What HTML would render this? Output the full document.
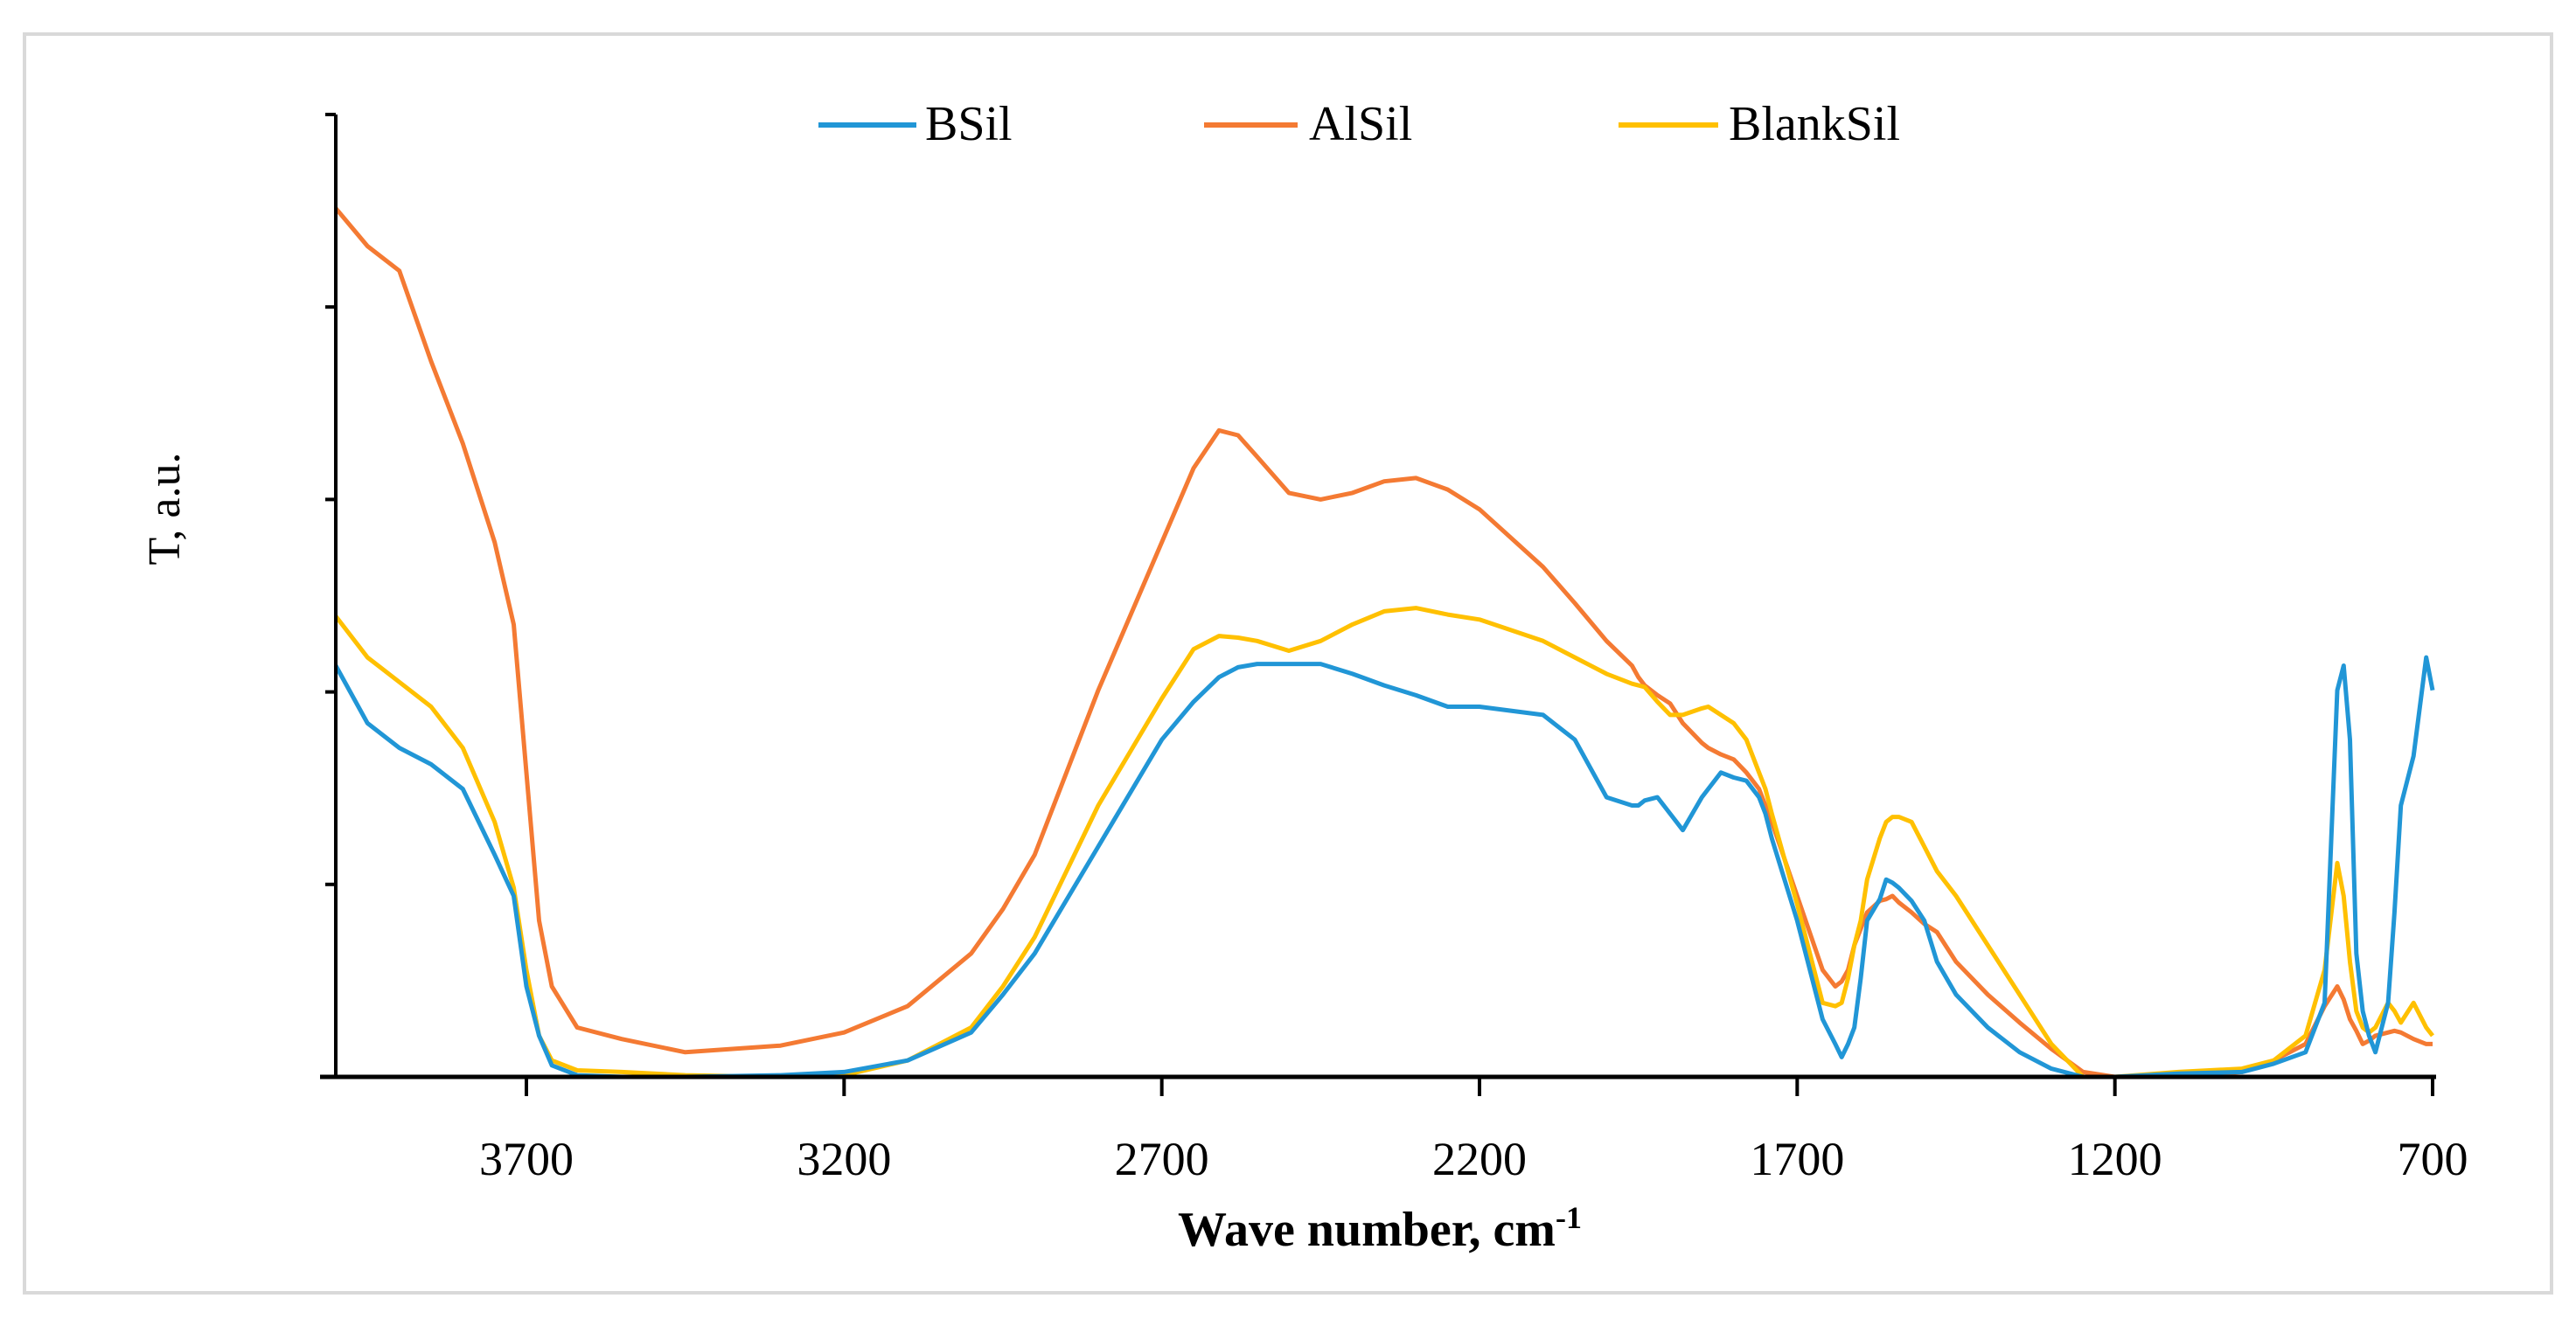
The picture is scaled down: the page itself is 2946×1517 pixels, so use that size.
<!DOCTYPE html>
<html><head><meta charset="utf-8"><style>
html,body{margin:0;padding:0;background:#fff;}
svg{display:block;font-family:"Liberation Serif",serif;}
</style></head><body>
<svg id="chart" width="2946" height="1517" viewBox="0 0 2946 1517">
<rect x="28" y="39" width="2890" height="1440" fill="#fff" stroke="#d9d9d9" stroke-width="4"/>
<g id="plot"></g>
</svg>
<script>
const wn = [4000,3950,3900,3850,3800,3750,3720,3700,3680,3660,3620,3550,3450,3300,3200,3100,3000,2950,2900,2800,2700,2650,2610,2580,2550,2500,2450,2400,2350,2300,2250,2200,2100,2050,2000,1960,1950,1940,1920,1900,1880,1850,1840,1820,1800,1780,1760,1750,1740,1700,1660,1640,1630,1620,1610,1600,1590,1570,1560,1550,1540,1520,1500,1480,1450,1400,1350,1300,1250,1200,1100,1000,950,900,870,850,840,830,820,810,800,790,770,760,750,730,710,700];
const alsil = [528,505,490,435,385,325,275,185,95,55,30,23,15,19,27,43,75,102,135,235,325,370,393,390,377,355,351,355,362,364,357,345,310,288,265,250,243,238,232,227,215,203,200,196,193,185,175,165,155,110,65,55,58,65,80,90,100,107,108,110,106,100,93,88,70,50,33,17,3,0,0,3,10,20,43,55,47,35,28,20,22,25,27,28,27,23,20,20];
const bsil = [250,215,200,190,175,135,110,55,25,7,1,0,0,1,3,10,27,50,75,140,205,228,243,249,251,251,251,245,238,232,225,225,220,205,170,165,165,168,170,160,150,170,175,185,182,180,170,160,145,95,35,20,12,20,30,60,95,108,120,118,115,107,95,70,50,30,15,5,0,0,2,3,8,15,45,235,250,205,75,40,25,15,45,100,165,195,255,235];
const blank = [280,255,240,225,200,155,115,65,25,10,4,3,1,0,1,10,30,55,85,165,230,260,268,267,265,259,265,275,283,285,281,278,265,255,245,239,238,237,228,220,220,224,225,220,215,205,185,175,160,105,45,43,45,60,80,95,120,145,155,158,158,155,140,125,110,80,50,20,0,0,3,5,10,25,65,130,110,70,40,30,27,30,45,40,33,45,30,25];
const xTicks = [3700,3200,2700,2200,1700,1200,700];
const yTicks = [0,117,234,351,468,585];
const seriesNames = ["BSil","AlSil","BlankSil"];

const NS = "http://www.w3.org/2000/svg";
const X0 = 384, X1 = 2782, Y0 = 1232, Y1 = 131;
const xs = v => X0 + (4000 - v) / 3300 * (X1 - X0);
const ys = v => Y0 - v / 585 * (Y0 - Y1);
const g = document.getElementById("plot");
function mk(tag, attrs){const e=document.createElementNS(NS,tag);for(const k in attrs)e.setAttribute(k,attrs[k]);return e;}

const series = [[bsil,"#2196d6"],[alsil,"#f47a33"],[blank,"#ffc000"]];
const order = [1,2,0];
order.forEach(i=>{
  const [vals,col]=series[i];
  const d = wn.map((w,j)=>(j?"L":"M")+xs(w).toFixed(1)+","+ys(vals[j]).toFixed(1)).join("");
  const p = mk("path",{d:d,fill:"none",stroke:col,"stroke-width":5,"stroke-linejoin":"round"});
  
  
  g.appendChild(p);
});

const ya = mk("line",{x1:X0,y1:Y1,x2:X0,y2:Y0,stroke:"#000","stroke-width":4});


g.appendChild(ya);
const xa = mk("line",{x1:X0-18,y1:Y0,x2:X1+4,y2:Y0,stroke:"#000","stroke-width":5});


g.appendChild(xa);
yTicks.forEach(t=>{
  const l = mk("line",{x1:X0-12,y1:ys(t),x2:X0,y2:ys(t),stroke:"#000","stroke-width":4});
  
  
  g.appendChild(l);
});
xTicks.forEach(t=>{
  const l = mk("line",{x1:xs(t),y1:Y0,x2:xs(t),y2:Y0+22,stroke:"#000","stroke-width":4});
  
  
  g.appendChild(l);
  const tx = mk("text",{x:xs(t),y:Y0+112,"text-anchor":"middle","font-size":54});
  tx.textContent = t;
  
  
  g.appendChild(tx);
});

const xt = mk("text",{x:1578,y:1425,"text-anchor":"middle","font-size":56,"font-weight":"bold"});
xt.innerHTML = 'Wave number, cm<tspan dy="-20" font-size="36">-1</tspan>';


g.appendChild(xt);
const yt = mk("text",{x:0,y:0,"text-anchor":"middle","font-size":52,transform:"translate(205,582) rotate(-90)"});
yt.textContent = "T, a.u.";


g.appendChild(yt);

const legX = [[936,1048,1058],[1377,1484,1497],[1851,1965,1977]];
const legCols = ["#2196d6","#f47a33","#ffc000"];
seriesNames.forEach((n,i)=>{
  const l = mk("line",{x1:legX[i][0],y1:143,x2:legX[i][1],y2:143,stroke:legCols[i],"stroke-width":6});
  
  
  g.appendChild(l);
  const t = mk("text",{x:legX[i][2],y:160,"font-size":56});
  t.textContent = n;
  
  
  g.appendChild(t);
});
</script>
</body></html>
